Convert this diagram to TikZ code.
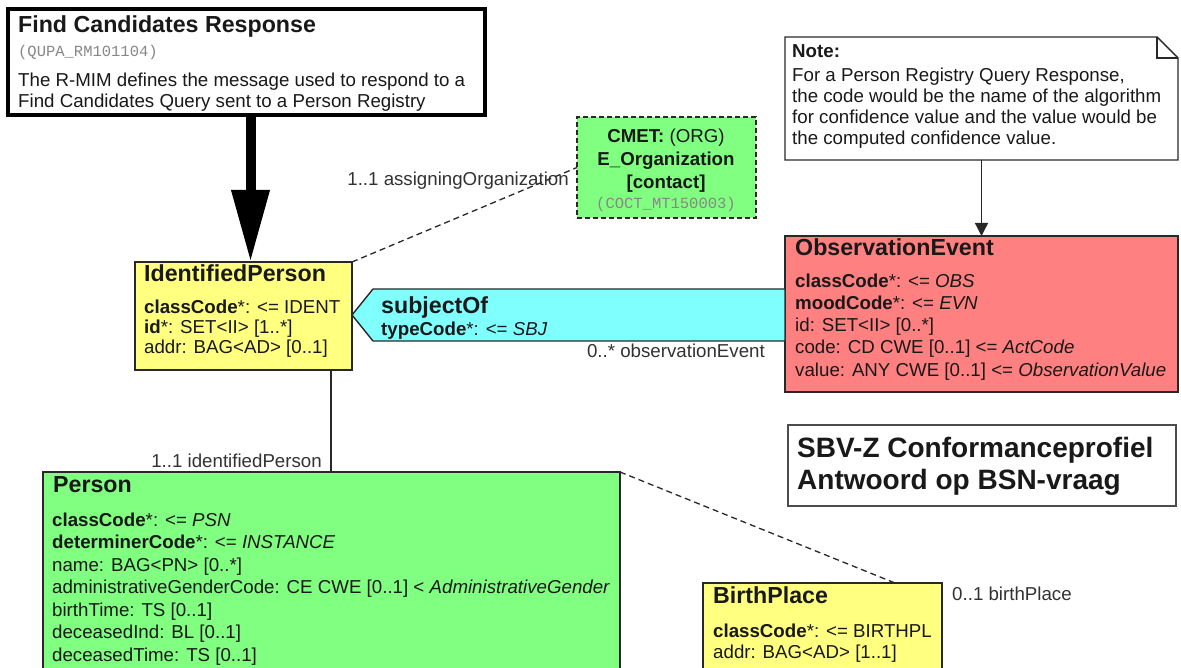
\documentclass[tikz,border=0pt]{standalone}
\usepackage{fontspec}
\setmainfont{Liberation Sans}
\setmonofont{Liberation Mono}
\usetikzlibrary{arrows.meta,calc}
\definecolor{hlyellow}{RGB}{255,255,128}
\definecolor{hlgreen}{RGB}{128,255,128}
\definecolor{hlcyan}{RGB}{128,255,255}
\definecolor{hlred}{RGB}{255,128,128}
\definecolor{txtc}{RGB}{25,25,25}
\definecolor{lblc}{RGB}{50,50,50}
\definecolor{monoc}{RGB}{135,135,135}
\definecolor{edgec}{RGB}{40,40,40}
\newcommand{\mybody}{\fontsize{18.7}{22}\selectfont}
\newcommand{\mytitle}{\fontsize{23.2}{27}\selectfont\bfseries}
\newcommand{\mymono}{\fontsize{15.5}{18}\selectfont\ttfamily}
\newcommand{\mybig}{\fontsize{28}{32}\selectfont\bfseries}
\begin{document}
\begin{tikzpicture}[x=1pt,y=-1pt,
  cls/.style={draw=edgec, line width=1.4pt, anchor=north west, inner sep=0pt, outer sep=0pt},
  frame/.style={anchor=north west, inner sep=0pt, outer sep=0pt},
  tl/.style={anchor=base west, inner sep=0pt, text=txtc, font=\mybody},
  tc/.style={anchor=base, inner sep=0pt, text=txtc, font=\mybody},
  tt/.style={anchor=base west, inner sep=0pt, text=txtc, font=\mytitle},
  mn/.style={inner sep=0pt, text=monoc, font=\mymono},
  labe/.style={anchor=base east, inner sep=0pt, text=lblc, font=\mybody},
  labw/.style={anchor=base west, inner sep=0pt, text=lblc, font=\mybody},
  assoc/.style={draw=edgec, line width=1.3pt},
  dashassoc/.style={draw=edgec, line width=1.3pt, dash pattern=on 6pt off 4pt},
  bigarrow/.style={draw=black, line width=10pt, -{Triangle[length=72pt,width=36pt]}},
  notearrow/.style={draw=edgec, line width=1.3pt, -{Triangle[length=13pt,width=13pt]}}
]
\useasboundingbox (0,0) rectangle (1181,668);
\clip (0,0) rectangle (1181,668);
\fill[white] (0,0) rectangle (1181,668);

% ---------- boxes ----------
\node[cls, draw=black, line width=4pt, fill=white, minimum width=477pt, minimum height=106pt] (fcr) at (8,9) {};
\node[cls, fill=hlgreen, line width=2pt, dash pattern=on 5pt off 3pt, minimum width=179pt, minimum height=101pt] (cmet) at (577,117) {};
\node[frame, minimum width=393pt, minimum height=123pt] (note) at (785,37) {};
\draw[draw=edgec, line width=1.4pt, fill=white] (note.north west) -- ([xshift=-21pt]note.north east) -- ([yshift=-21pt]note.north east) -- (note.south east) -- (note.south west) -- cycle;
\draw[draw=edgec, line width=1.2pt] ([xshift=-21pt]note.north east) -- ([xshift=-21pt,yshift=-21pt]note.north east) -- ([yshift=-21pt]note.north east);
\node[cls, fill=hlyellow, minimum width=217pt, minimum height=108pt] (ip) at (135,262) {};
\node[cls, fill=hlred, minimum width=393pt, minimum height=156pt] (obs) at (785,236) {};
\node[frame, minimum width=433pt, minimum height=52pt] (subj) at (352,289) {};
\draw[draw=edgec, line width=1.4pt, fill=hlcyan] (subj.west) -- ([xshift=21pt]subj.north west) -- (subj.north east) -- (subj.south east) -- ([xshift=21pt]subj.south west) -- cycle;
\node[cls, fill=hlgreen, minimum width=577pt, minimum height=250pt] (person) at (43,472) {};
\node[cls, fill=hlyellow, minimum width=239pt, minimum height=100pt] (bp) at (703,583) {};
\node[cls, draw=black!70, line width=2pt, fill=white, minimum width=388pt, minimum height=81pt] (sbv) at (788,425) {};

% ---------- connectors ----------
\draw[bigarrow] ([xshift=4pt]fcr.south) -- ([xshift=4pt]fcr.south |- ip.north);
\draw[notearrow] (note.south) -- (obs.north);
\draw[dashassoc] (ip.north east) -- (cmet.west);
\draw[assoc] ([xshift=196pt]ip.south west) -- ([xshift=196pt]ip.south west |- person.north);
\draw[dashassoc] (person.north east) -- ([xshift=192pt]bp.north west);

% ---------- Find Candidates Response ----------
\node[tt] (fcrt) at (18,33) {Find Candidates Response};
\node[mn, anchor=base west] (fcrm) at (18,57) {(QUPA\_RM101104)};
\node[tl] (fcr1) at (18,87) {The R-MIM defines the message used to respond to a};
\node[tl] (fcr2) at (18,108) {Find Candidates Query sent to a Person Registry};

% ---------- CMET ----------
\node[tc] (cm1) at (666,143) {\textbf{CMET:} (ORG)};
\node[tc] (cm2) at (666,166) {\textbf{E\_Organization}};
\node[tc] (cm3) at (666,189) {\textbf{[contact]}};
\node[mn, anchor=base] (cm4) at (666,209) {(COCT\_MT150003)};
\node[labe] (lorg) at (569,186) {1..1 assigningOrganization};

% ---------- Note ----------
\node[tl] (nt0) at (792,58) {\textbf{Note:}};
\node[tl] (nt1) at (792,82) {For a Person Registry Query Response,};
\node[tl] (nt2) at (792,103) {the code would be the name of the algorithm};
\node[tl] (nt3) at (792,124) {for confidence value and the value would be};
\node[tl] (nt4) at (792,145) {the computed confidence value.};

% ---------- IdentifiedPerson ----------
\node[tt] (ipt) at (144,282) {IdentifiedPerson};
\node[tl] (ip1) at (144,314) {\textbf{classCode}*: <= IDENT};
\node[tl] (ip2) at (144,334) {\textbf{id}*: SET<II> [1..*]};
\node[tl] (ip3) at (144,354) {addr: BAG<AD> [0..1]};

% ---------- subjectOf ----------
\node[tt] (sjt) at (381,314) {subjectOf};
\node[tl] (sj1) at (381,336) {\textbf{typeCode}*: <= \textit{SBJ}};
\node[labe] (lobs) at (765,358) {0..* observationEvent};

% ---------- ObservationEvent ----------
\node[tt] (obt) at (795,256) {ObservationEvent};
\node[tl] (ob1) at (795,288) {\textbf{classCode}*: <= \textit{OBS}};
\node[tl] (ob2) at (795,310) {\textbf{moodCode}*: <= \textit{EVN}};
\node[tl] (ob3) at (795,332) {id: SET<II> [0..*]};
\node[tl] (ob4) at (795,354) {code: CD CWE [0..1] <= \textit{ActCode}};
\node[tl] (ob5) at (795,376) {value: ANY CWE [0..1] <= \textit{ObservationValue}};

% ---------- SBV-Z ----------
\node[anchor=base west, inner sep=0pt, text=txtc, font=\mybig] (sbv1) at (797,457) {SBV-Z Conformanceprofiel};
\node[anchor=base west, inner sep=0pt, text=txtc, font=\mybig] (sbv2) at (797,489) {Antwoord op BSN-vraag};

% ---------- Person ----------
\node[labe] (lip) at (322,467) {1..1 identifiedPerson};
\node[tt] (pt) at (53,492) {Person};
\node[tl] (p1) at (52,526) {\textbf{classCode}*: <= \textit{PSN}};
\node[tl] (p2) at (52,548.5) {\textbf{determinerCode}*: <= \textit{INSTANCE}};
\node[tl] (p3) at (52,571) {name: BAG<PN> [0..*]};
\node[tl] (p4) at (52,593.5) {administrativeGenderCode: CE CWE [0..1] < \textit{AdministrativeGender}};
\node[tl] (p5) at (52,616) {birthTime: TS [0..1]};
\node[tl] (p6) at (52,638.5) {deceasedInd: BL [0..1]};
\node[tl] (p7) at (52,661) {deceasedTime: TS [0..1]};

% ---------- BirthPlace ----------
\node[tt] (bpt) at (713,603) {BirthPlace};
\node[tl] (bp1) at (713,637) {\textbf{classCode}*: <= BIRTHPL};
\node[tl] (bp2) at (713,658) {addr: BAG<AD> [1..1]};
\node[labw] (lbp) at (952,600) {0..1 birthPlace};
\end{tikzpicture}
\end{document}
